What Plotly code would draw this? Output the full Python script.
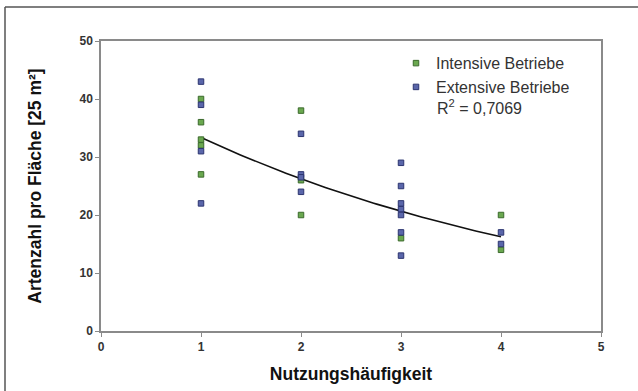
import numpy as np
import plotly.graph_objects as go

# Data
intensive_x = [1, 1, 1, 1, 1, 2, 2, 2, 3, 4, 4]
intensive_y = [40, 36, 33, 32, 27, 38, 26, 20, 16, 20, 14]
extensive_x = [1, 1, 1, 1, 2, 2, 2, 2, 3, 3, 3, 3, 3, 3, 3, 4, 4]
extensive_y = [43, 39, 31, 22, 34, 27, 26.5, 24, 29, 25, 22, 21, 20, 17, 13, 17, 15]

# Exponential trendline y = a * exp(b * x)
trend_a = 42.4
trend_b = -0.24
trend_x_range = [1, 4]
r_squared_label = "R<sup>2</sup> = 0,7069"

x_ticks = [0, 1, 2, 3, 4, 5]
y_ticks = [0, 10, 20, 30, 40, 50]

tx = np.linspace(trend_x_range[0], trend_x_range[1], 100)
ty = trend_a * np.exp(trend_b * tx)

fig = go.Figure()
fig.add_trace(go.Scatter(
    x=tx, y=ty, mode="lines", line=dict(color="#111111", width=1.6),
    showlegend=False, hoverinfo="skip"))
fig.add_trace(go.Scatter(
    x=intensive_x, y=intensive_y, mode="markers", name="Intensive Betriebe",
    marker=dict(symbol="square", size=5.5, color="#6aa84f",
                line=dict(color="#3b6a2c", width=1))))
fig.add_trace(go.Scatter(
    x=extensive_x, y=extensive_y, mode="markers", name="Extensive Betriebe",
    marker=dict(symbol="square", size=5.5, color="#5a66aa",
                line=dict(color="#2c3570", width=1))))

axis_color = "#8a8a8a"
tick_font = dict(size=12, family="Liberation Sans, Arial", color="#333333", weight="bold")
fig.update_layout(
    width=638, height=391,
    margin=dict(l=101, r=37, t=41, b=60),
    paper_bgcolor="white", plot_bgcolor="white",
    font=dict(family="Liberation Sans, Arial, sans-serif", color="#222222"),
    xaxis=dict(range=[0, 5], tickvals=x_ticks, showgrid=False, zeroline=False,
               showline=True, linecolor=axis_color, linewidth=1.5, mirror=True,
               ticks="outside", ticklen=4, tickcolor=axis_color, automargin=False,
               tickfont=tick_font,
               title=dict(text="<b>Nutzungshäufigkeit</b>", font=dict(size=17.5, color="#111111"), standoff=15)),
    yaxis=dict(range=[0, 50], tickvals=y_ticks, showgrid=False, zeroline=False,
               showline=True, linecolor=axis_color, linewidth=1.5, mirror=True,
               ticks="outside", ticklen=4, tickcolor=axis_color, automargin=False,
               tickfont=tick_font,
               title=dict(text="<b>Artenzahl pro Fläche [25 m²]</b>", font=dict(size=17.5, color="#111111"), standoff=33)),
    legend=dict(x=0.59, y=0.982, xanchor="left", yanchor="top",
                bgcolor="rgba(0,0,0,0)", font=dict(size=16, color="#333333"),
                itemwidth=30, tracegroupgap=0),
    annotations=[dict(xref="paper", yref="paper", x=0.668, y=0.772,
                      xanchor="left", yanchor="middle", showarrow=False,
                      text=r_squared_label, font=dict(size=16, color="#333333"))],
    shapes=[
        dict(type="line", xref="paper", yref="paper", x0=-0.192, x1=1.1, y0=1.117, y1=1.117,
             line=dict(color="#555555", width=1.5)),
        dict(type="line", xref="paper", yref="paper", x0=-0.192, x1=-0.192, y0=1.117, y1=-0.22,
             line=dict(color="#555555", width=1.5)),
    ],
)
fig.write_html("out.html", config={"displayModeBar": False},
               post_script="document.body.style.margin='0';document.body.style.overflow='hidden';")
